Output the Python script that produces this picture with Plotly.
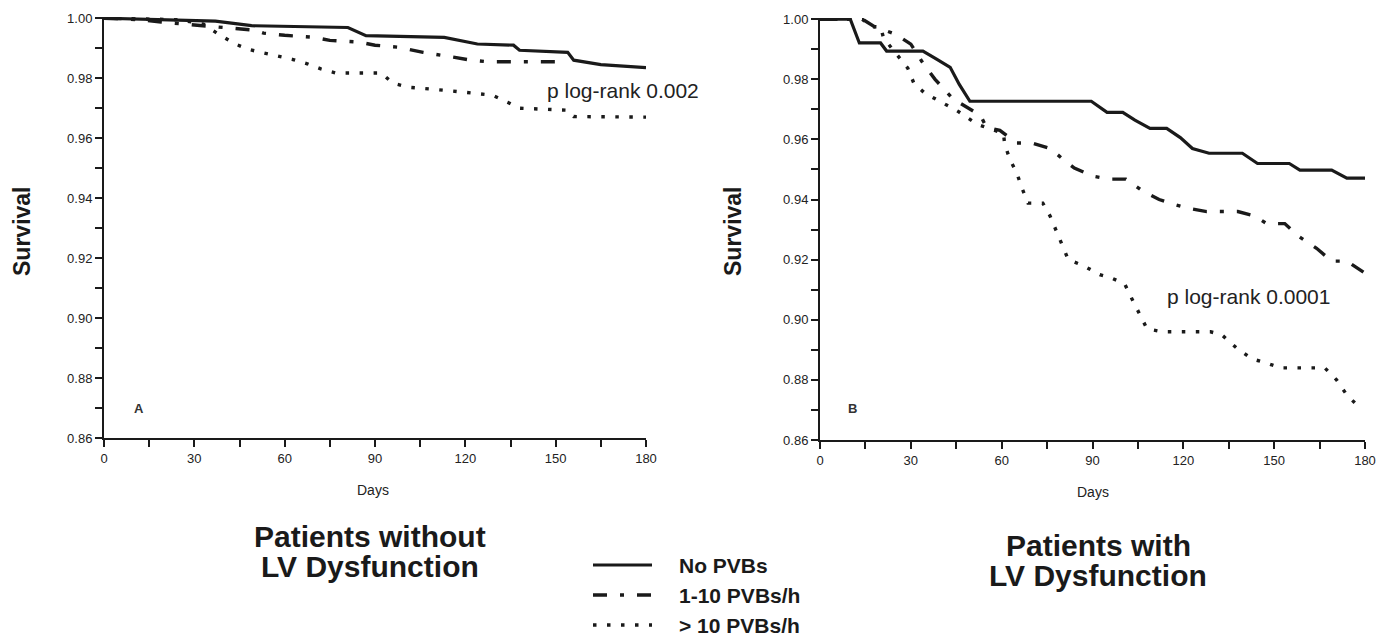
import plotly.graph_objects as go

# ---------------- data ----------------
# Panel A: patients without LV dysfunction
a_none_days = [0, 20, 37, 45, 49, 81, 87, 113, 124, 136, 138, 154, 156, 165, 180]
a_none_surv = [1.0, 0.9995, 0.999, 0.998, 0.9975, 0.9969, 0.9942, 0.9936, 0.9914, 0.991, 0.9893, 0.9886, 0.986, 0.9845, 0.9835]

a_low_days = [0, 12, 19, 30, 36, 50, 53, 60, 70, 75, 85, 90, 98, 101, 106, 116, 122, 127, 154]
a_low_surv = [1.0, 0.9995, 0.9987, 0.9977, 0.997, 0.996, 0.995, 0.9943, 0.9936, 0.9926, 0.992, 0.991, 0.9903, 0.9896, 0.9886, 0.987, 0.986, 0.9855, 0.9855]

a_high_days = [0, 25, 33, 38.6, 43.6, 48, 53, 58, 62.5, 67.5, 72, 77, 92, 96, 101, 115, 129, 134, 138, 154, 156, 180]
a_high_surv = [1.0, 0.9995, 0.998, 0.9943, 0.9914, 0.9896, 0.9884, 0.9873, 0.9863, 0.9848, 0.9831, 0.9817, 0.9817, 0.9783, 0.977, 0.9758, 0.9743, 0.972, 0.970, 0.9693, 0.9672, 0.967]

# Panel B: patients with LV dysfunction
b_none_days = [0, 10, 13, 20, 22, 34, 38.5, 43, 46, 49.5, 89.6, 94.8, 100, 104, 109, 114.5, 119, 123, 128.5, 139.5, 144.5, 155, 158.5, 169, 174, 180]
b_none_surv = [1.0, 1.0, 0.9921, 0.9921, 0.9894, 0.9894, 0.9867, 0.984, 0.9783, 0.9727, 0.9727, 0.969, 0.969, 0.9664, 0.9637, 0.9637, 0.9606, 0.957, 0.9554, 0.9554, 0.952, 0.952, 0.9498, 0.9498, 0.9471, 0.9471]

b_low_days = [0, 14, 18, 25, 30, 34, 38, 42, 44, 53, 55, 59.4, 65, 70, 76, 81, 84, 90, 95.7, 101, 106.6, 112, 116.5, 122, 127.7, 138, 143.6, 147.5, 153.5, 158, 164, 169, 174, 180]
b_low_surv = [1.0, 1.0, 0.9975, 0.995, 0.9917, 0.9854, 0.980, 0.9754, 0.9734, 0.968, 0.964, 0.963, 0.9588, 0.9588, 0.957, 0.9528, 0.9505, 0.9478, 0.9468, 0.9468, 0.9428, 0.940, 0.9385, 0.937, 0.936, 0.936, 0.9345, 0.932, 0.932, 0.9278, 0.9238, 0.9195, 0.9195, 0.9155]

b_high_days = [0, 14, 16.5, 20, 21, 29, 31, 34.6, 39, 45.5, 52, 60.6, 61, 62.7, 65, 66.7, 68.7, 73.6, 76, 78, 80, 82, 87, 92.4, 96, 100.6, 103, 105.6, 108, 113, 129, 132.7, 137.6, 142.6, 147.5, 152, 166.7, 170.6, 174, 178]
b_high_surv = [1.0, 1.0, 0.9975, 0.9975, 0.9937, 0.9837, 0.9787, 0.9754, 0.973, 0.9694, 0.965, 0.962, 0.9584, 0.9534, 0.9488, 0.9438, 0.9388, 0.9388, 0.9345, 0.9295, 0.9248, 0.920, 0.918, 0.915, 0.914, 0.912, 0.907, 0.902, 0.897, 0.896, 0.896, 0.895, 0.8906, 0.887, 0.8856, 0.884, 0.884, 0.880, 0.875, 0.871]

series_names = ["No PVBs", "1-10 PVBs/h", "> 10 PVBs/h"]
x_ticks = [0, 30, 60, 90, 120, 150, 180]
y_ticks = [0.86, 0.88, 0.90, 0.92, 0.94, 0.96, 0.98, 1.00]
y_ticklabels = ["0.86", "0.88", "0.90", "0.92", "0.94", "0.96", "0.98", "1.00"]
p_texts = ["p log-rank 0.002", "p log-rank 0.0001"]
panel_letters = ["A", "B"]
titles = [["Patients without", "LV Dysfunction"], ["Patients with", "LV Dysfunction"]]

# ---------------- styling ----------------
W, H = 1380, 644
INK = "#1a1a1a"
FONT = "Liberation Sans, Arial, sans-serif"
styles = [
    dict(color=INK, width=3.2, dash="solid"),
    dict(color=INK, width=3.4, dash="14px,13px,4px,13px"),
    dict(color=INK, width=3.4, dash="3.5px,10.5px"),
]

def px_x(p):
    return p / W

def px_y(p):
    return 1 - p / H

fig = go.Figure()

panels = [
    ("x", "y", [(a_none_days, a_none_surv), (a_low_days, a_low_surv), (a_high_days, a_high_surv)]),
    ("x2", "y2", [(b_none_days, b_none_surv), (b_low_days, b_low_surv), (b_high_days, b_high_surv)]),
]
for xa, ya, series in panels:
    for (d, s), st, nm in zip(series, styles, series_names):
        fig.add_trace(go.Scatter(x=d, y=s, mode="lines", name=nm, line=st,
                                 xaxis=xa, yaxis=ya, showlegend=False, hoverinfo="skip"))

axis_common = dict(showline=True, linecolor=INK, linewidth=2, ticks="outside", ticklen=7,
                   tickwidth=1.6, tickcolor=INK, showgrid=False, zeroline=False,
                   tickfont=dict(family=FONT, size=13, color="#222"), automargin=False)

xdom = [[px_x(104), px_x(646)], [px_x(820), px_x(1365)]]
ydom = [[px_y(438), px_y(17)], [px_y(440), px_y(18)]]

for i, (xn, yn) in enumerate([("xaxis", "yaxis"), ("xaxis2", "yaxis2")]):
    anchor_y = "y" if i == 0 else "y2"
    anchor_x = "x" if i == 0 else "x2"
    fig.update_layout({
        xn: dict(axis_common, domain=xdom[i], range=[0, 180], anchor=anchor_y,
                 tickmode="array", tickvals=x_ticks, ticktext=[str(v) for v in x_ticks],
                 minor=dict(tickmode="linear", tick0=15, dtick=30, ticks="outside",
                            ticklen=7, tickwidth=1.6, tickcolor=INK)),
        yn: dict(axis_common, domain=ydom[i], range=[0.86, 1.0004], anchor=anchor_x,
                 tickmode="array", tickvals=y_ticks, ticktext=y_ticklabels,
                 minor=dict(tickmode="linear", tick0=0.87, dtick=0.02, ticks="outside",
                            ticklen=7, tickwidth=1.6, tickcolor=INK)),
    })

ann = []
def add_text(text, cx, cy, size, xanchor="center", angle=0, color=INK):
    ann.append(dict(text=text, x=px_x(cx), y=px_y(cy), xref="paper", yref="paper",
                    xanchor=xanchor, yanchor="middle", textangle=angle, showarrow=False,
                    font=dict(family=FONT, size=size, color=color)))

# axis titles
for cx in [22, 733]:
    add_text("<b>Survival</b>", cx, 231, 23, angle=-90)
for cx, cy in [(373, 490), (1093, 492)]:
    add_text("Days", cx, cy, 14, color="#222")
# panel letters
for (cx, cy), t in zip([(139, 408), (852, 408)], panel_letters):
    add_text(f"<b>{t}</b>", cx, cy, 13, color="#333")
# p values
for (cx, cy), t in zip([(545, 91), (1165, 296)], p_texts):
    add_text(t, cx, cy, 21, xanchor="left", color="#222")
# panel titles
for cx, lines, ys in [(370, titles[0], (536, 566)), (1098, titles[1], (545, 575))]:
    for t, cy in zip(lines, ys):
        add_text(f"<b>{t}</b>", cx, cy, 30)

# legend (manual, to match the long line samples)
shapes = []
for st, nm, cy in zip(styles, series_names, [565, 595, 625]):
    shapes.append(dict(type="line", xref="paper", yref="paper", x0=px_x(593), x1=px_x(652),
                       y0=px_y(cy), y1=px_y(cy), line=st))
    add_text(f"<b>{nm}</b>", 677, cy, 21, xanchor="left")

fig.update_layout(width=W, height=H, margin=dict(l=0, r=0, t=0, b=0),
                  paper_bgcolor="white", plot_bgcolor="white",
                  annotations=ann, shapes=shapes, showlegend=False)

fig.write_html("out.html", config={"displayModeBar": False},
               post_script="document.body.style.margin='0';document.body.style.overflow='hidden';")
